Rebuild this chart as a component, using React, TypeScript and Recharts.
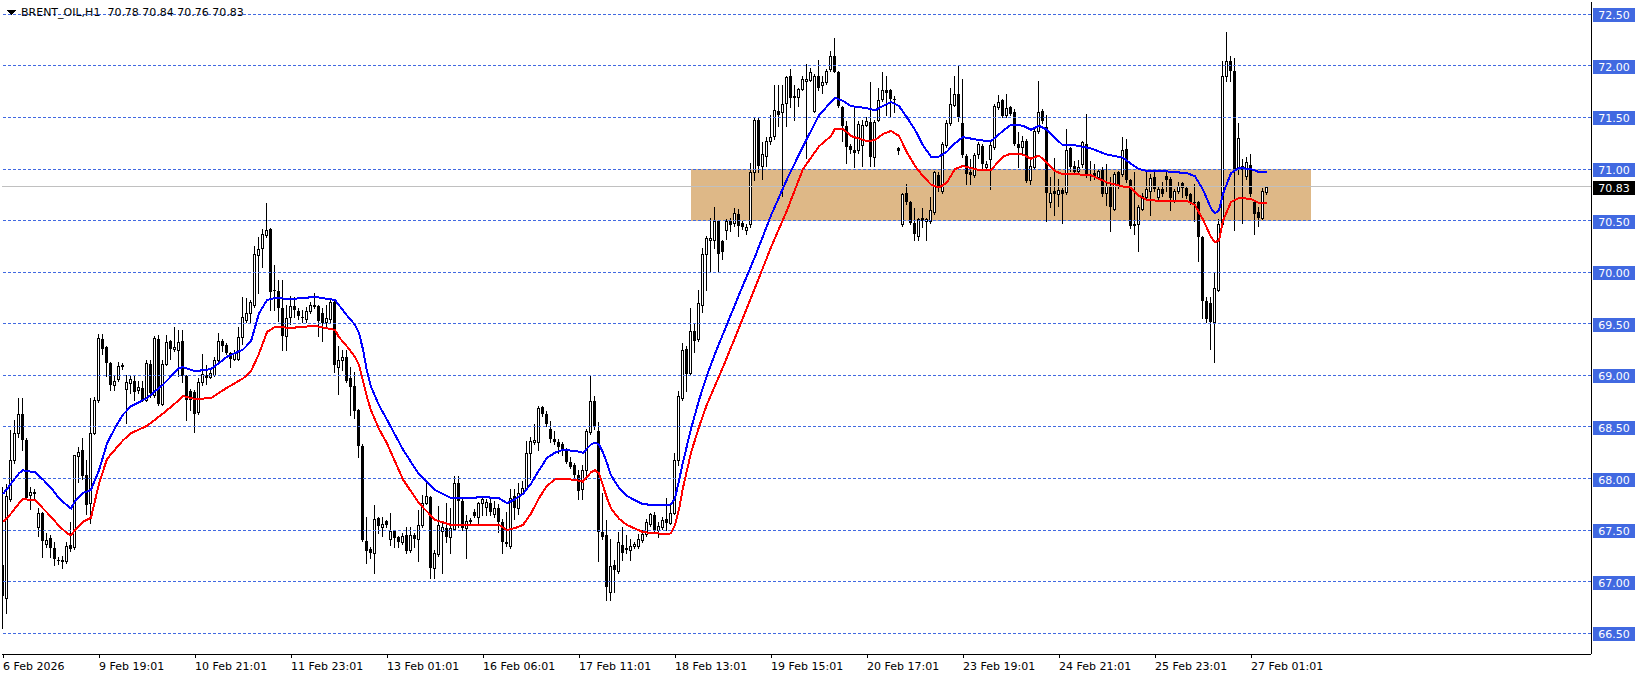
import React from 'react';
import { ComposedChart, Bar, Line, XAxis, YAxis, ReferenceArea, ReferenceLine } from 'recharts';

const FONT = '"DejaVu Sans", Tahoma, sans-serif';

// hourly candles, oldest first
const opens = [
  67.16, 66.84, 67.80, 68.18, 68.44, 68.63, 68.37, 67.84, 67.86, 67.53,
  67.67, 67.37, 67.42, 67.33, 67.21, 67.20, 67.20, 67.36, 67.34, 68.22,
  68.28, 68.03, 67.76, 68.44, 68.76, 69.35, 69.27, 69.12, 68.91, 68.96,
  69.10, 68.87, 68.93, 68.95, 68.86, 68.88, 68.76, 69.11, 68.81, 69.35,
  68.72, 69.11, 69.33, 69.26, 69.25, 69.33, 68.99, 68.85, 68.84, 68.64,
  68.94, 69.00, 68.98, 69.00, 69.15, 69.33, 69.29, 69.22, 69.16, 69.16,
  69.37, 69.54, 69.60, 69.68, 70.17, 70.23, 70.36, 70.42, 69.83, 69.82,
  69.65, 69.38, 69.57, 69.67, 69.62, 69.57, 69.55, 69.62, 69.68, 69.67,
  69.60, 69.52, 69.55, 69.71, 69.08, 69.15, 69.18, 68.97, 68.90, 68.66,
  68.32, 67.39, 67.32, 67.28, 67.62, 67.53, 67.59, 67.41, 67.49, 67.43,
  67.38, 67.45, 67.31, 67.45, 67.41, 67.55, 67.76, 67.82, 67.13, 67.27,
  67.49, 67.52, 67.43, 67.51, 67.96, 67.78, 67.52, 67.60, 67.68, 67.63,
  67.76, 67.72, 67.76, 67.66, 67.71, 67.58, 67.38, 67.35, 67.83, 67.71,
  67.86, 67.91, 68.25, 68.35, 68.35, 68.69, 68.63, 68.48, 68.38, 68.35,
  68.33, 68.28, 68.16, 68.13, 68.03, 67.90, 68.08, 68.45, 68.75, 68.46,
  67.48, 67.45, 66.90, 67.16, 67.10, 67.36, 67.33, 67.31, 67.35, 67.35,
  67.40, 67.46, 67.56, 67.65, 67.50, 67.53, 67.61, 67.57, 67.67, 68.18,
  68.78, 69.26, 69.02, 69.43, 69.35, 69.68, 70.18, 70.31, 70.31, 70.50,
  70.30, 70.41, 70.50, 70.48, 70.56, 70.48, 70.41, 70.47, 70.97, 71.48,
  71.03, 71.13, 71.27, 71.32, 71.56, 71.55, 71.64, 71.90, 71.71, 71.70,
  71.78, 71.85, 71.86, 71.56, 71.90, 71.81, 71.84, 71.97, 72.10, 71.94,
  71.60, 71.42, 71.22, 71.18, 71.18, 71.23, 71.43, 71.46, 71.12, 71.48,
  71.68, 71.77, 71.77, 71.68, 71.20, 70.47, 70.77, 70.68, 70.48, 70.35,
  70.53, 70.50, 70.50, 70.58, 70.94, 70.79, 71.23, 71.45, 71.62, 71.73,
  71.45, 71.13, 70.97, 70.94, 71.15, 71.22, 71.02, 71.10, 71.21, 71.60,
  71.67, 71.52, 71.60, 71.55, 71.24, 71.21, 71.27, 70.89, 71.02, 71.37,
  71.56, 71.41, 70.68, 70.79, 70.76, 70.80, 70.78, 71.20, 71.03, 70.98,
  71.05, 71.24, 70.95, 70.96, 70.92, 70.99, 70.77, 70.83, 70.61, 70.97,
  70.95, 71.19, 70.89, 70.47, 70.47, 70.61, 70.73, 70.79, 70.92, 70.73,
  70.81, 70.93, 70.90, 70.69, 70.79, 70.86, 70.82, 70.76, 70.68, 70.68,
  70.34, 69.72, 69.70, 69.52, 69.83, 70.47, 71.90, 72.05, 71.95, 71.00,
  71.00, 70.93, 71.04, 70.68, 70.58, 70.53, 70.78,
];
const highs = [
  67.92, 67.95, 68.47, 68.57, 68.78, 68.78, 68.39, 67.92, 67.90, 67.71,
  67.68, 67.47, 67.45, 67.38, 67.24, 67.25, 67.38, 67.58, 68.23, 68.31,
  68.39, 68.18, 68.78, 68.79, 69.40, 69.40, 69.28, 69.13, 68.99, 69.13,
  69.12, 69.00, 69.00, 68.99, 68.95, 68.95, 69.15, 69.15, 69.38, 69.39,
  69.15, 69.39, 69.34, 69.47, 69.44, 69.44, 69.00, 68.87, 68.86, 68.97,
  69.21, 69.10, 69.05, 69.18, 69.41, 69.35, 69.31, 69.23, 69.25, 69.47,
  69.76, 69.75, 69.73, 70.25, 70.34, 70.42, 70.67, 70.43, 70.07, 69.92,
  69.92, 69.68, 69.77, 69.76, 69.65, 69.63, 69.66, 69.71, 69.80, 69.68,
  69.65, 69.68, 69.73, 69.73, 69.28, 69.25, 69.25, 69.08, 69.03, 68.67,
  68.33, 67.63, 67.34, 67.74, 67.63, 67.63, 67.60, 67.67, 67.50, 67.44,
  67.47, 67.53, 67.53, 67.47, 67.69, 67.84, 67.99, 67.83, 67.31, 67.73,
  67.57, 67.76, 67.71, 68.02, 68.02, 67.80, 67.65, 67.62, 67.70, 67.77,
  67.81, 67.80, 67.80, 67.78, 67.75, 67.61, 67.68, 67.90, 67.90, 67.96,
  67.98, 68.36, 68.40, 68.53, 68.70, 68.70, 68.65, 68.56, 68.46, 68.38,
  68.35, 68.30, 68.21, 68.15, 68.08, 68.13, 68.48, 69.00, 68.80, 68.55,
  67.86, 67.60, 67.41, 67.21, 67.48, 67.53, 67.45, 67.41, 67.38, 67.46,
  67.50, 67.61, 67.67, 67.68, 67.58, 67.63, 67.81, 67.74, 68.25, 68.85,
  69.31, 69.28, 69.65, 69.50, 69.83, 70.23, 70.35, 70.53, 70.63, 70.51,
  70.31, 70.52, 70.53, 70.62, 70.61, 70.50, 70.47, 71.06, 71.50, 71.49,
  71.26, 71.31, 71.52, 71.81, 71.81, 71.81, 71.90, 71.97, 71.81, 71.79,
  71.90, 72.02, 71.98, 71.92, 72.06, 71.90, 71.97, 72.14, 72.27, 71.95,
  71.61, 71.47, 71.24, 71.60, 71.47, 71.48, 71.50, 71.84, 71.48, 71.79,
  71.94, 71.90, 71.78, 71.71, 71.21, 70.77, 70.85, 70.69, 70.62, 70.53,
  70.62, 70.53, 70.73, 70.98, 70.97, 71.26, 71.48, 71.79, 71.90, 72.00,
  71.87, 71.15, 71.10, 71.16, 71.26, 71.24, 71.08, 71.26, 71.63, 71.72,
  71.68, 71.73, 71.61, 71.58, 71.36, 71.32, 71.29, 71.11, 71.40, 71.85,
  71.58, 71.52, 70.92, 71.11, 70.90, 70.82, 71.39, 71.21, 71.08, 71.09,
  71.27, 71.53, 71.08, 71.05, 70.99, 71.02, 71.05, 70.92, 70.97, 70.98,
  71.31, 71.29, 70.90, 70.97, 70.65, 70.77, 70.98, 70.95, 70.97, 70.84,
  70.87, 70.97, 70.92, 70.81, 70.87, 70.87, 70.84, 70.77, 70.85, 70.69,
  70.35, 69.76, 69.76, 70.00, 70.52, 72.05, 72.33, 72.10, 72.08, 71.45,
  71.10, 71.12, 71.15, 70.70, 70.63, 70.82, 70.84,
];
const lows = [
  66.55, 66.70, 67.78, 68.15, 68.40, 68.28, 67.80, 67.70, 67.80, 67.44,
  67.24, 67.34, 67.24, 67.16, 67.17, 67.13, 67.18, 67.30, 67.32, 67.97,
  68.00, 67.66, 67.57, 68.43, 68.74, 69.21, 68.99, 68.86, 68.86, 68.95,
  69.06, 68.54, 68.83, 68.76, 68.83, 68.75, 68.75, 68.79, 68.79, 68.71,
  68.71, 69.10, 69.16, 69.24, 68.99, 68.94, 68.57, 68.66, 68.45, 68.63,
  68.91, 68.92, 68.97, 68.99, 69.14, 69.24, 69.21, 69.08, 69.15, 69.15,
  69.30, 69.52, 69.52, 69.66, 69.80, 70.05, 70.34, 69.63, 69.63, 69.53,
  69.25, 69.25, 69.50, 69.57, 69.55, 69.52, 69.52, 69.60, 69.65, 69.38,
  69.33, 69.47, 69.52, 69.03, 68.82, 69.05, 68.94, 68.62, 68.59, 68.21,
  67.39, 67.18, 67.23, 67.08, 67.47, 67.44, 67.53, 67.36, 67.34, 67.34,
  67.37, 67.28, 67.29, 67.34, 67.20, 67.53, 67.75, 67.04, 67.04, 67.25,
  67.08, 67.38, 67.28, 67.50, 67.53, 67.50, 67.23, 67.57, 67.63, 67.57,
  67.65, 67.65, 67.65, 67.63, 67.48, 67.28, 67.35, 67.33, 67.61, 67.66,
  67.85, 67.90, 68.00, 68.33, 68.28, 68.61, 68.51, 68.35, 68.33, 68.25,
  68.23, 68.15, 68.10, 68.00, 67.80, 67.80, 68.00, 68.43, 68.48, 67.20,
  67.41, 66.82, 66.82, 66.90, 67.08, 67.21, 67.28, 67.21, 67.33, 67.33,
  67.38, 67.44, 67.54, 67.49, 67.43, 67.51, 67.50, 67.56, 67.66, 68.13,
  68.76, 68.85, 69.01, 69.23, 69.33, 69.61, 69.83, 70.01, 70.23, 70.01,
  70.13, 70.32, 70.40, 70.45, 70.35, 70.42, 70.37, 70.44, 70.89, 70.97,
  70.90, 71.03, 71.24, 71.29, 71.42, 70.74, 71.42, 71.60, 71.48, 71.61,
  71.77, 71.11, 71.85, 71.55, 71.77, 71.74, 71.82, 71.95, 71.94, 71.60,
  71.27, 71.06, 71.16, 71.02, 71.16, 71.03, 71.42, 71.03, 71.03, 71.47,
  71.66, 71.52, 71.50, 71.55, 71.15, 70.45, 70.66, 70.47, 70.31, 70.31,
  70.44, 70.31, 70.48, 70.56, 70.79, 70.77, 71.21, 71.43, 71.61, 71.47,
  71.12, 70.85, 70.85, 70.92, 71.11, 71.00, 71.00, 70.81, 71.19, 71.58,
  71.50, 71.50, 71.52, 71.23, 71.02, 71.15, 70.87, 70.85, 71.00, 71.35,
  71.45, 70.50, 70.63, 70.55, 70.64, 70.48, 70.76, 70.98, 70.95, 70.95,
  71.02, 70.92, 70.89, 70.90, 70.90, 70.74, 70.65, 70.40, 70.60, 70.82,
  70.93, 70.87, 70.43, 70.37, 70.21, 70.60, 70.71, 70.55, 70.79, 70.71,
  70.74, 70.79, 70.60, 70.68, 70.77, 70.73, 70.72, 70.66, 70.50, 70.11,
  69.56, 69.52, 69.26, 69.13, 69.82, 70.45, 71.85, 71.85, 70.41, 70.95,
  70.48, 70.90, 70.74, 70.37, 70.45, 70.52, 70.76,
];
const closes = [
  66.86, 67.83, 68.18, 68.44, 68.63, 68.37, 67.81, 67.87, 67.87, 67.67,
  67.39, 67.40, 67.33, 67.22, 67.20, 67.21, 67.35, 67.32, 68.23, 68.26,
  68.02, 67.74, 68.44, 68.76, 69.36, 69.26, 69.12, 68.91, 68.95, 69.09,
  69.08, 68.94, 68.96, 68.84, 68.89, 68.76, 69.12, 68.83, 69.36, 68.72,
  69.11, 69.32, 69.26, 69.27, 69.32, 68.99, 68.76, 68.76, 68.63, 68.94,
  69.01, 68.97, 69.02, 69.15, 69.33, 69.28, 69.22, 69.16, 69.22, 69.37,
  69.57, 69.60, 69.71, 70.18, 70.22, 70.37, 70.41, 69.81, 69.82, 69.65,
  69.38, 69.56, 69.67, 69.63, 69.58, 69.56, 69.62, 69.68, 69.66, 69.53,
  69.51, 69.56, 69.71, 69.10, 69.15, 69.18, 68.95, 68.89, 68.65, 68.32,
  67.40, 67.30, 67.28, 67.61, 67.54, 67.56, 67.55, 67.49, 67.42, 67.38,
  67.44, 67.30, 67.45, 67.41, 67.55, 67.76, 67.83, 67.13, 67.28, 67.55,
  67.53, 67.43, 67.52, 67.96, 67.78, 67.52, 67.59, 67.58, 67.64, 67.76,
  67.80, 67.77, 67.68, 67.71, 67.58, 67.38, 67.37, 67.81, 67.71, 67.86,
  67.91, 68.25, 68.36, 68.37, 68.68, 68.63, 68.53, 68.38, 68.35, 68.31,
  68.28, 68.16, 68.11, 68.03, 67.88, 68.08, 68.46, 68.75, 68.50, 67.48,
  67.43, 66.95, 67.15, 67.11, 67.38, 67.28, 67.31, 67.35, 67.37, 67.41,
  67.46, 67.58, 67.66, 67.50, 67.54, 67.60, 67.57, 67.67, 68.18, 68.80,
  69.25, 69.01, 69.43, 69.33, 69.70, 70.18, 70.33, 70.33, 70.50, 70.18,
  70.20, 70.50, 70.46, 70.57, 70.45, 70.44, 70.44, 70.97, 71.48, 71.03,
  71.15, 71.27, 71.31, 71.57, 71.52, 71.63, 71.89, 71.69, 71.69, 71.78,
  71.87, 71.87, 71.94, 71.90, 71.79, 71.84, 71.95, 72.10, 71.94, 71.61,
  71.42, 71.21, 71.18, 71.16, 71.44, 71.43, 71.47, 71.12, 71.46, 71.67,
  71.77, 71.74, 71.68, 71.67, 71.17, 70.76, 70.68, 70.48, 70.37, 70.52,
  70.50, 70.52, 70.60, 70.97, 70.84, 71.24, 71.45, 71.63, 71.73, 71.50,
  71.14, 70.95, 70.94, 71.14, 71.24, 71.05, 71.05, 71.23, 71.61, 71.65,
  71.51, 71.59, 71.53, 71.24, 71.20, 71.27, 70.88, 71.03, 71.37, 71.55,
  71.47, 70.77, 70.77, 70.76, 70.80, 70.76, 71.18, 71.02, 70.97, 71.02,
  71.26, 70.94, 70.94, 70.92, 70.98, 70.76, 70.84, 70.63, 70.95, 70.84,
  71.18, 70.89, 70.45, 70.45, 70.63, 70.74, 70.81, 70.91, 70.81, 70.81,
  70.76, 70.89, 70.72, 70.79, 70.84, 70.82, 70.74, 70.67, 70.67, 70.34,
  69.72, 69.55, 69.52, 69.85, 70.47, 71.90, 72.05, 71.95, 71.00, 71.30,
  71.03, 71.07, 70.76, 70.56, 70.53, 70.79, 70.83,
];

// moving averages, read at these bar indices
const maIdx = [
  0, 2, 4, 5, 8, 10, 12, 14, 16, 17, 18, 20, 22, 24, 26, 28, 30, 32, 36, 40,
  44, 45, 48, 52, 56, 60, 62, 64, 66, 68, 72, 78, 83, 84, 86, 88, 89, 90, 91, 92,
  94, 96, 100, 104, 108, 112, 116, 120, 124, 126, 128, 130, 132, 134, 136, 138, 140, 144, 145, 147,
  148, 149, 150, 151, 152, 154, 156, 160, 166, 167, 168, 169, 170, 172, 174, 176, 178, 180, 184, 188,
  192, 196, 200, 204, 207, 208, 210, 212, 216, 218, 220, 222, 224, 226, 228, 230, 232, 234, 236, 238,
  240, 244, 247, 250, 252, 255, 257, 259, 261, 263, 265, 268, 272, 276, 280, 282, 284, 286, 290, 296,
  298, 300, 302, 303, 304, 305, 307, 309, 312, 314, 316,
];
const maBlue = [
  67.85, 67.95, 68.05, 68.08, 68.06, 67.99, 67.91, 67.81, 67.74, 67.71, 67.78, 67.86, 67.89, 68.08, 68.34, 68.49, 68.62, 68.70, 68.78, 68.91,
  69.07, 69.08, 69.04, 69.06, 69.18, 69.25, 69.33, 69.60, 69.73, 69.75, 69.74, 69.76, 69.73, 69.68, 69.58, 69.49, 69.41, 69.25, 69.04, 68.89,
  68.71, 68.57, 68.28, 68.04, 67.89, 67.81, 67.81, 67.82, 67.81, 67.76, 67.80, 67.85, 67.95, 68.08, 68.20, 68.25, 68.28, 68.26, 68.25, 68.33,
  68.35, 68.33, 68.25, 68.15, 68.03, 67.91, 67.83, 67.75, 67.74, 67.75, 67.81, 67.98, 68.16, 68.48, 68.76, 69.00, 69.21, 69.40, 69.78, 70.15,
  70.55, 70.90, 71.22, 71.52, 71.65, 71.69, 71.66, 71.61, 71.59, 71.57, 71.61, 71.65, 71.61, 71.50, 71.38, 71.23, 71.12, 71.12, 71.17, 71.25,
  71.31, 71.28, 71.27, 71.37, 71.43, 71.42, 71.38, 71.42, 71.38, 71.30, 71.23, 71.23, 71.20, 71.14, 71.11, 71.05, 71.00, 70.98, 70.98, 70.96,
  70.93, 70.80, 70.62, 70.57, 70.60, 70.76, 70.96, 71.01, 71.00, 70.97, 70.97,
];
const maRed = [
  67.58, 67.66, 67.76, 67.80, 67.79, 67.71, 67.63, 67.54, 67.47, 67.45, 67.50, 67.58, 67.62, 67.95, 68.19, 68.28, 68.37, 68.44, 68.51, 68.63,
  68.76, 68.80, 68.77, 68.78, 68.88, 68.97, 69.04, 69.21, 69.42, 69.47, 69.46, 69.48, 69.44, 69.37, 69.28, 69.18, 69.10, 68.95, 68.79, 68.66,
  68.48, 68.34, 67.99, 67.76, 67.60, 67.55, 67.55, 67.55, 67.55, 67.50, 67.52, 67.55, 67.66, 67.81, 67.93, 67.99, 68.00, 67.98, 67.97, 68.06,
  68.08, 68.05, 67.93, 67.81, 67.71, 67.61, 67.55, 67.48, 67.46, 67.47, 67.55, 67.70, 67.91, 68.25, 68.50, 68.72, 68.90, 69.08, 69.46, 69.85,
  70.24, 70.60, 71.00, 71.22, 71.32, 71.39, 71.39, 71.32, 71.27, 71.28, 71.34, 71.37, 71.32, 71.16, 71.03, 70.93, 70.85, 70.82, 70.87, 71.00,
  71.03, 70.99, 70.99, 71.12, 71.15, 71.14, 71.10, 71.13, 71.06, 70.98, 70.95, 70.95, 70.94, 70.87, 70.83, 70.82, 70.74, 70.70, 70.69, 70.69,
  70.65, 70.51, 70.34, 70.29, 70.31, 70.50, 70.68, 70.72, 70.71, 70.67, 70.67,
];

const timeTicks = [0, 24, 48, 72, 96, 120, 144, 168, 192, 216, 240, 264, 288, 312];
const timeLabels = [
  '6 Feb 2026', '9 Feb 19:01', '10 Feb 21:01', '11 Feb 23:01', '13 Feb 01:01', '16 Feb 06:01', '17 Feb 11:01',
  '18 Feb 13:01', '19 Feb 15:01', '20 Feb 17:01', '23 Feb 19:01', '24 Feb 21:01', '25 Feb 23:01', '27 Feb 01:01',
];
const priceTicks = [66.5, 67, 67.5, 68, 68.5, 69, 69.5, 70, 70.5, 71, 71.5, 72, 72.5];
const lastPrice = 70.83;
const zoneLow = 70.5;
const zoneHigh = 71.0;
const zoneFrom = 172;
const zoneTo = 327;

const rows: any[] = opens.map((o, i) => ({
  i,
  open: o,
  high: highs[i],
  low: lows[i],
  close: closes[i],
  range: [lows[i], highs[i]],
}));
maIdx.forEach((k, j) => {
  rows[k].blue = maBlue[j];
  rows[k].red = maRed[j];
});

const Candle = (props: any) => {
  const { x, y, width, height, payload } = props;
  if (x == null || y == null) return null;
  const { open, high, low, close } = payload;
  const cx = Math.floor(x + width / 2 + 0.01);
  const k = height / (high - low || 1);
  const yO = y + (high - open) * k;
  const yC = y + (high - close) * k;
  const top = Math.round(Math.min(yO, yC));
  const bot = Math.round(Math.max(yO, yC));
  const up = close >= open;
  return (
    <g>
      <line x1={cx + 0.5} x2={cx + 0.5} y1={Math.round(y)} y2={Math.round(y + height) + 1} stroke="#000" strokeWidth={1} />
      {up ? (
        <rect x={cx - 0.5} y={top + 0.5} width={2} height={Math.max(bot - top, 1)} fill="#fff" stroke="#000" strokeWidth={1} />
      ) : (
        <rect x={cx - 1} y={top} width={3} height={Math.max(bot - top, 1)} fill="#000" />
      )}
    </g>
  );
};

const TimeTick = ({ x, y, payload }: any) => {
  const n = timeTicks.indexOf(payload.value);
  return (
    <text x={x} y={y + 12} fontSize={11} fontFamily={FONT} fill="#000">
      {timeLabels[n]}
    </text>
  );
};

const PriceTick = ({ x, y, payload }: any) => {
  const v = payload.value;
  const isLast = Math.abs(v - lastPrice) < 1e-6;
  const cy = Math.round(y);
  return (
    <g>
      <rect x={x} y={cy - 6} width={42} height={14} fill={isLast ? '#000' : '#4169E1'} />
      <text x={x + 21} y={cy + 5} textAnchor="middle" fontSize={11} fontFamily={FONT} fill="#fff">
        {v.toFixed(2)}
      </text>
    </g>
  );
};

export default function App() {
  return (
    <div style={{ position: 'absolute', left: 0, top: 0, width: 1641, height: 678, background: '#fff', shapeRendering: 'crispEdges' } as any}>
      <ComposedChart width={1641} height={678} data={rows} margin={{ top: 2, right: 0, bottom: 0, left: 2 }}>
        <XAxis
          dataKey="i"
          type="number"
          domain={[-0.25, 397]}
          allowDataOverflow
          ticks={timeTicks}
          interval={0}
          height={24}
          tickSize={4}
          tickMargin={0}
          tickLine={{ stroke: '#000' }}
          axisLine={{ stroke: '#000' }}
          tick={<TimeTick />}
        />
        <XAxis xAxisId="frame" orientation="top" type="number" domain={[0, 1]} height={0} tick={false} tickLine={false} axisLine={{ stroke: '#000' }} />
        <YAxis
          orientation="right"
          type="number"
          domain={[66.299, 72.619]}
          allowDataOverflow
          ticks={[...priceTicks, lastPrice]}
          interval={0}
          width={50}
          tickLine={false}
          tickSize={2}
          tickMargin={0}
          axisLine={{ stroke: '#000' }}
          tick={<PriceTick />}
        />
        <YAxis yAxisId="frame" orientation="left" type="number" domain={[0, 1]} width={0} tick={false} tickLine={false} axisLine={{ stroke: '#000' }} />

        <ReferenceArea x1={zoneFrom} x2={zoneTo} y1={zoneLow} y2={zoneHigh} fill="#DEB887" fillOpacity={1} stroke="none" ifOverflow="hidden" />
        {priceTicks.map((v) => (
          <ReferenceLine key={v} y={v} stroke="#4169E1" strokeDasharray="3 2" />
        ))}
        <ReferenceLine y={lastPrice} stroke="#C0C0C0" />

        <Bar dataKey="range" barSize={3} shape={(p: any) => <Candle {...p} />} isAnimationActive={false} />
        <Line dataKey="blue" type="linear" stroke="#0000FF" strokeWidth={2} dot={false} connectNulls isAnimationActive={false} />
        <Line dataKey="red" type="linear" stroke="#FF0000" strokeWidth={2} dot={false} connectNulls isAnimationActive={false} />
      </ComposedChart>
      <div style={{ position: 'absolute', left: 7, top: 7, display: 'flex', alignItems: 'center', fontFamily: FONT, fontSize: 11, lineHeight: '11px', color: '#000', whiteSpace: 'pre' }}>
        <svg width={9} height={5} style={{ marginRight: 5 }}>
          <polygon points="0,0 9,0 4.5,5" fill="#000" />
        </svg>
        <span>BRENT_OIL,H1  70.78 70.84 70.76 70.83</span>
      </div>
    </div>
  );
}
